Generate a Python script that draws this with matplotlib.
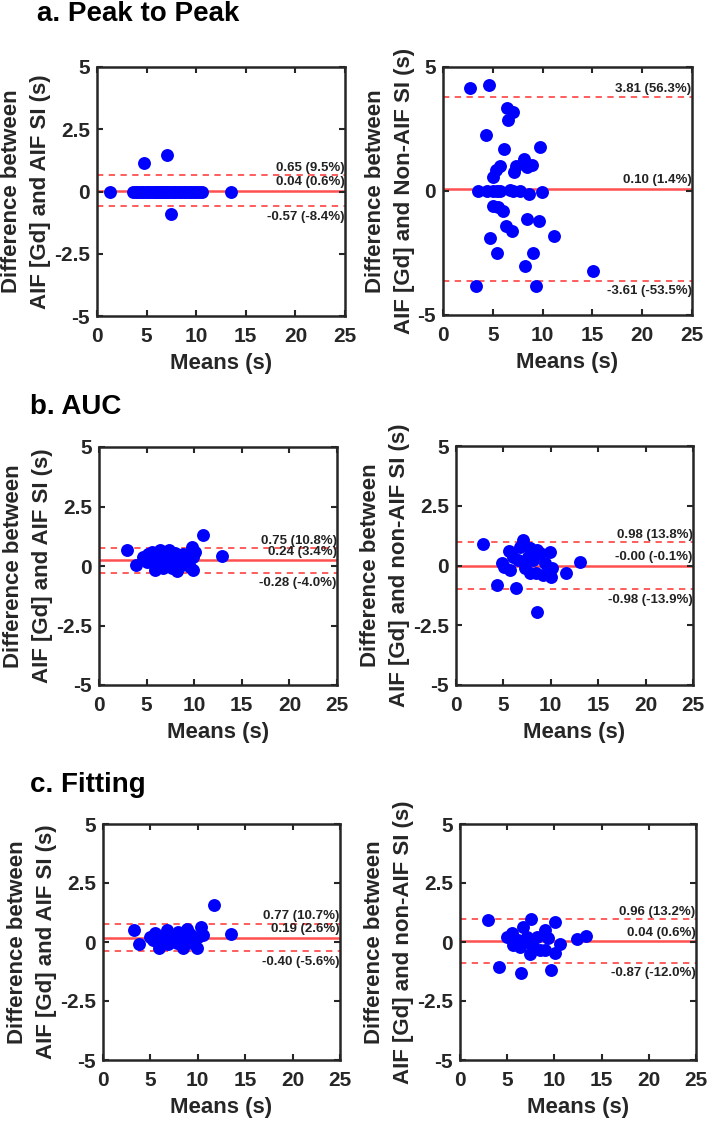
import matplotlib
matplotlib.use("Agg")
import matplotlib.pyplot as plt

plt.rcParams['font.family'] = ['Liberation Sans', 'DejaVu Sans']
plt.rcParams['font.weight'] = 'bold'

# ---- data (means x, differences y) ----
p2p_aif_x = [1.3, 3.6, 3.9, 4.1, 4.4, 4.6, 4.9, 5.1, 5.3, 5.6, 5.8, 6.0, 6.2, 6.5, 6.7,
             6.9, 7.1, 7.3, 7.6, 7.8, 8.0, 8.3, 8.5, 8.8, 9.0, 9.3, 9.5, 9.8, 10.0, 10.3,
             10.6, 13.5, 4.7, 7.1, 7.5]
p2p_aif_y = [0.0] * 32 + [1.16, 1.47, -0.91]

p2p_non_x = [2.7, 4.65, 6.4, 7.0, 6.5, 4.3, 6.1, 9.7, 8.1, 8.4, 8.9, 7.3, 7.1, 5.7, 5.3, 5.05,
             3.5, 4.4, 5.05, 5.4, 5.7, 6.7, 7.0, 7.7, 8.6, 9.9,
             5.05, 5.55, 6.0, 6.3, 6.9, 8.4, 9.6, 11.1, 4.7, 5.4, 9.0, 8.2, 15.1, 3.3, 9.3]
p2p_non_y = [4.17, 4.28, 3.36, 3.19, 2.88, 2.27, 1.68, 1.77, 1.28, 0.97, 1.05, 1.01, 0.77, 1.0, 0.84, 0.57,
             0.0, 0.0, 0.0, 0.0, 0.0, 0.05, 0.0, 0.0, -0.12, -0.05,
             -0.6, -0.64, -0.8, -1.42, -1.62, -1.11, -1.2, -1.81, -1.91, -2.52, -2.52, -3.03, -3.21, -3.83, -3.83]

auc_aif_x = [2.98, 3.85, 10.89, 12.89, 4.66, 5.18, 5.53, 5.88, 6.06, 6.41, 6.76, 7.35, 7.46, 7.81,
             8.23, 8.33, 8.86, 9.2, 9.56, 9.73, 9.84, 9.9, 10.08, 5.7, 6.93, 7.98, 5.0, 7.1, 8.68,
             7.63, 6.6]
auc_aif_y = [0.69, 0.06, 1.30, 0.43, 0.39, 0.50, 0.60, -0.17, 0.25, 0.67, -0.10, 0.69, 0.32, 0.11,
             -0.20, 0.39, 0.50, 0.25, -0.03, 0.78, -0.17, 0.39, 0.60, 0.11, 0.39, 0.53, 0.18, 0.08, 0.04,
             -0.10, 0.07]

auc_non_x = [2.81, 4.29, 6.33, 8.51, 13.08, 11.6, 9.92, 7.1, 5.56, 7.81, 4.82, 5.06, 5.7, 6.05,
             6.58, 6.75, 7.28, 7.63, 8.16, 8.44, 8.86, 9.21, 9.39, 9.99, 10.1, 7.81, 8.51]
auc_non_y = [0.90, -0.82, -0.93, -1.93, 0.13, -0.33, 0.58, 1.07, 0.62, 0.72, 0.12, -0.05, -0.19, 0.37,
             0.23, 0.79, -0.12, 0.37, 0.23, -0.33, 0.51, -0.40, 0.09, -0.47, -0.12, -0.33, 0.65]

fit_aif_x = [3.27, 3.76, 11.74, 13.47, 10.34, 4.96, 5.49, 5.94, 6.19, 6.72, 6.89, 7.42, 7.95, 8.47,
             8.83, 9.18, 9.88, 10.06, 10.58, 7.77, 6.36, 8.3, 5.3, 7.24, 9.35]
fit_aif_y = [0.52, -0.08, 1.57, 0.32, 0.65, 0.23, 0.37, -0.27, 0.23, 0.51, -0.08, 0.30, 0.44, -0.27,
             0.54, 0.32, -0.27, 0.23, 0.30, -0.06, -0.06, 0.08, 0.08, 0.08, -0.06]

fit_non_x = [3.0, 4.17, 6.43, 9.6, 10.06, 7.49, 12.43, 13.35, 10.59, 10.06, 7.42, 9.0, 4.94, 5.47,
             5.65, 6.18, 6.71, 7.06, 7.77, 8.12, 8.47, 9.0, 9.36, 6.36, 7.42]
fit_non_y = [0.93, -1.07, -1.33, -1.19, 0.86, 0.96, 0.13, 0.25, -0.08, -0.45, -0.51, 0.51, 0.23, 0.37,
             -0.13, 0.08, 0.65, 0.23, -0.2, 0.23, -0.34, -0.34, 0.16, -0.2, -0.06]

# (lower, mean, upper) limits and their labels
limits = [(-0.57, 0.04, 0.65), (-3.61, 0.10, 3.81),
          (-0.28, 0.24, 0.75), (-0.98, -0.00, 0.98),
          (-0.40, 0.19, 0.77), (-0.87, 0.04, 0.96)]
limit_labels = [("-0.57 (-8.4%)", "0.04 (0.6%)", "0.65 (9.5%)"),
                ("-3.61 (-53.5%)", "0.10 (1.4%)", "3.81 (56.3%)"),
                ("-0.28 (-4.0%)", "0.24 (3.4%)", "0.75 (10.8%)"),
                ("-0.98 (-13.9%)", "-0.00 (-0.1%)", "0.98 (13.8%)"),
                ("-0.40 (-5.6%)", "0.19 (2.6%)", "0.77 (10.7%)"),
                ("-0.87 (-12.0%)", "0.04 (0.6%)", "0.96 (13.2%)")]
ylabels = ["Difference between\nAIF [Gd] and AIF SI (s)",
           "Difference between\nAIF [Gd] and Non-AIF SI (s)",
           "Difference between\nAIF [Gd] and AIF SI (s)",
           "Difference between\nAIF [Gd] and non-AIF SI (s)",
           "Difference between\nAIF [Gd] and AIF SI (s)",
           "Difference between\nAIF [Gd] and non-AIF SI (s)"]
yticks_full = [-5, -2.5, 0, 2.5, 5]
yticks_short = [-5, 0, 5]
panel_yticks = [yticks_full, yticks_short, yticks_full, yticks_full, yticks_full, yticks_full]
series = [(p2p_aif_x, p2p_aif_y), (p2p_non_x, p2p_non_y),
          (auc_aif_x, auc_aif_y), (auc_non_x, auc_non_y),
          (fit_aif_x, fit_aif_y), (fit_non_x, fit_non_y)]
titles = ["a. Peak to Peak", "b. AUC", "c. Fitting"]

W, H = 709, 1125
fig = plt.figure(figsize=(W / 100, H / 100), dpi=100)

# axes boxes in pixels: left, right, top, bottom
boxes = [(97, 345, 67, 316), (443, 692, 67, 315),
         (99, 337, 447, 685), (456, 693, 446, 685),
         (103, 340, 824, 1060), (460, 696, 824, 1060)]
title_pos = [(37, 14), (30, 407), (30, 785)]

red = '#ff5050'
dark = '#262626'

for i, (l, r, t, b) in enumerate(boxes):
    ax = fig.add_axes([l / W, 1 - b / H, (r - l) / W, (b - t) / H])
    x, y = series[i]
    lo, mn, hi = limits[i]
    llo, lmn, lhi = limit_labels[i]
    ax.axhline(mn, color=red, lw=1.8, zorder=1)
    ax.axhline(hi, color=red, lw=1.3, ls=(0, (3.5, 3)), zorder=1)
    ax.axhline(lo, color=red, lw=1.3, ls=(0, (3.5, 3)), zorder=1)
    ax.plot(x, y, 'o', color='#0000ff', ms=9.3, mec='none', zorder=2)
    ax.text(24.95, hi + 0.06, lhi, ha='right', va='bottom', fontsize=9.5, fontweight='bold', color='#222222')
    ax.text(24.95, mn + 0.1, lmn, ha='right', va='bottom', fontsize=9.5, fontweight='bold', color='#222222')
    ax.text(24.95, lo - 0.2, llo, ha='right', va='top', fontsize=9.5, fontweight='bold', color='#222222')
    ax.set_xlim(0, 25)
    ax.set_ylim(-5, 5)
    ax.set_xticks([0, 5, 10, 15, 20, 25])
    yt = panel_yticks[i]
    ax.set_yticks(yt)
    ax.set_yticklabels([f"{v:g}" for v in yt])
    ax.tick_params(direction='in', top=True, right=True, length=4, width=1.5, color=dark,
                   labelsize=15, labelcolor=dark)
    ax.tick_params(axis='x', pad=8)
    ax.tick_params(axis='y', pad=5)
    for lab in ax.get_xticklabels() + ax.get_yticklabels():
        lab.set_fontweight('bold')
    for s in ax.spines.values():
        s.set_linewidth(1.8)
        s.set_color(dark)
    ax.set_xlabel("Means (s)", fontsize=16, fontweight='bold', color=dark, labelpad=5)
    ax.set_ylabel(ylabels[i], fontsize=16, fontweight='bold', color=dark, linespacing=1.5, labelpad=2)

for txt, (tx, ty) in zip(titles, title_pos):
    fig.text(tx / W, 1 - ty / H, txt, ha='left', va='center', fontsize=20, fontweight='bold', color='black')

fig.savefig("out.png", dpi=100)
